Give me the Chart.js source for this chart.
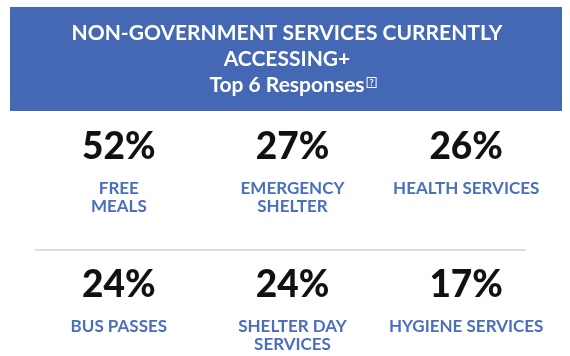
<!DOCTYPE html>
<html lang="en">
<head>
    <meta charset="UTF-8" />
    <title>Non-government services</title>
    <script src="https://cdn.jsdelivr.net/npm/chart.js@4.4.0/dist/chart.umd.min.js"></script>
    <style>
        body { margin: 0; background: #fff; }
        #wrap { width: 570px; height: 356px; }
    </style>
</head>
<body>
<div id="wrap"><canvas id="chart" width="570" height="356"></canvas></div>

<script>
// top 6 responses
const services = [['FREE', 'MEALS'], ['EMERGENCY', 'SHELTER'], ['HEALTH SERVICES'],
                  ['BUS PASSES'], ['SHELTER DAY', 'SERVICES'], ['HYGIENE SERVICES']];
const percents = [52, 27, 26, 24, 24, 17];
const titleLines = ['NON-GOVERNMENT SERVICES CURRENTLY', 'ACCESSING+', 'Top 6 Responses'];

const BLUE = '#4468b4';
const LABEL_BLUE = '#4a6fbd';
const FONT = 'Lato, "Open Sans", sans-serif';

// 3 across, 2 down
const cells = percents.map((p, i) => ({ x: i % 3, y: Math.floor(i / 3), v: p }));

const header = {
    id: 'header',
    beforeDraw(chart) {
        const c = chart.ctx;
        c.save();
        c.fillStyle = '#fff';
        c.fillRect(0, 0, chart.width, chart.height);
        c.fillStyle = BLUE;
        c.fillRect(10, 7, 552, 104);

        c.fillStyle = '#fff';
        c.font = 'bold 21px ' + FONT;
        c.textAlign = 'center';
        c.textBaseline = 'alphabetic';
        const base = [40, 66, 92];
        titleLines.forEach((t, i) => c.fillText(t, 287, base[i]));

        // little boxed "?" after the last line
        const w = c.measureText(titleLines[2]).width;
        const bx = 287 + w / 2 + 2;
        c.strokeStyle = '#fff';
        c.lineWidth = 1;
        c.strokeRect(bx + 0.5, 77.5, 9, 10);
        c.font = 'bold 9px ' + FONT;
        c.fillText('?', bx + 5, 86);

        // divider between the two rows
        c.strokeStyle = '#dcdcdc';
        c.lineWidth = 2;
        c.beginPath();
        c.moveTo(35, 250);
        c.lineTo(526, 250);
        c.stroke();
        c.restore();
    }
};

const tiles = {
    id: 'tiles',
    afterDatasetsDraw(chart) {
        const c = chart.ctx;
        const meta = chart.getDatasetMeta(0);
        c.save();
        c.textAlign = 'center';
        c.textBaseline = 'alphabetic';
        meta.data.forEach((el, i) => {
            c.fillStyle = '#111';
            c.font = '900 37px ' + FONT;
            c.fillText(percents[i] + '%', el.x, el.y + 13.5);
            c.fillStyle = LABEL_BLUE;
            c.font = 'bold 17px ' + FONT;
            services[i].forEach((line, k) => c.fillText(line, el.x, el.y + 49 + k * 18));
        });
        c.restore();
    }
};

new Chart(document.getElementById('chart'), {
    type: 'scatter',
    data: {
        datasets: [{
            data: cells,
            pointRadius: 0,
            pointHoverRadius: 0
        }]
    },
    options: {
        responsive: false,
        animation: false,
        layout: { padding: { left: 32, right: 17, top: 76, bottom: 4 } },
        scales: {
            x: { type: 'linear', min: -0.5, max: 2.5, display: false },
            y: { type: 'linear', min: -0.5, max: 1.5, reverse: true, display: false }
        },
        plugins: { legend: { display: false }, tooltip: { enabled: false } }
    },
    plugins: [header, tiles]
});
</script>
</body>
</html>
